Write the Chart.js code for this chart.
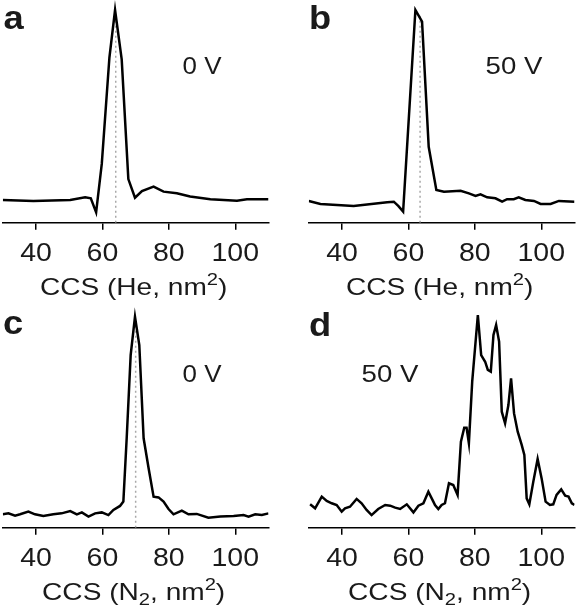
<!DOCTYPE html>
<html><head><meta charset="utf-8">
<script src="https://cdn.jsdelivr.net/npm/chart.js@4.4.1/dist/chart.umd.min.js"></script>
<style>
html,body{margin:0;padding:0;background:#fff;}
#wrap{position:relative;width:577px;height:610px;overflow:hidden;}
.panel{position:absolute;}
canvas{display:block;}
</style></head><body>
<div id="wrap">
<div class="panel" style="left:0;top:0"><canvas id="ca" width="288" height="305"></canvas></div>
<div class="panel" style="left:288px;top:0"><canvas id="cb" width="289" height="305"></canvas></div>
<div class="panel" style="left:0;top:305px"><canvas id="cc" width="288" height="305"></canvas></div>
<div class="panel" style="left:288px;top:305px"><canvas id="cd" width="289" height="305"></canvas></div>
</div>
<script>
// ---- data (CCS in nm², intensity in arbitrary units, baseline ~0, main peak ~100) ----
const tickLabels = [40, 60, 80, 100];
const panelLetters = ["a", "b", "c", "d"];
const voltageLabels = ["0 V", "50 V", "0 V", "50 V"];
// axis titles: [text, 0 = normal, 1 = superscript, -1 = subscript]
const axisTitleHe = [["CCS (He, nm", 0], ["2", 1], [")", 0]];
const axisTitleN2 = [["CCS (N", 0], ["2", -1], [", nm", 0], ["2", 1], [")", 0]];
const axisTitles = [axisTitleHe, axisTitleHe, axisTitleN2, axisTitleN2];
const markerCCS = [64, 63.5, 70, null];

const ccsA = [30, 39.2, 50.3, 54.8, 56.5, 58.1, 59.8, 62.1, 63.8, 65.8, 67.8, 69.8, 71.9, 75.4, 78.4, 82.4, 86.4, 92.5, 100.5, 103.5, 110];
const intA = [0, -0.5, 0, 1.4, 0.9, -6.5, 19, 75, 100, 74, 11, 1.2, 4.7, 7, 4.4, 3.5, 1.8, 0.4, -0.4, 0.4, 0.4];

const ccsB = [30, 33.5, 43.5, 53.6, 55.6, 57, 58.4, 62.1, 64.1, 66.1, 68.4, 70.7, 75.7, 78.2, 80.2, 81.7, 83.7, 86.2, 88.2, 89.7, 91.7, 93.2, 95.2, 97.8, 99.8, 102.8, 105.3, 110];
const intB = [-0.5, -2.1, -3.2, -1.2, -0.9, -3.2, -6.1, 100, 93.9, 28, 5.3, 4.4, 4.9, 3.5, 2.1, 3, 1.4, 0.9, -0.9, 0.4, 0.4, 1.4, 0, -0.5, -2.1, -2.1, -0.5, -0.9];

const ccsC = [30, 31.7, 33.7, 35.2, 37.7, 39.7, 42.2, 45.2, 47.7, 50.3, 52.3, 53.8, 55.8, 57.8, 59.8, 61.8, 63.3, 65.3, 66.3, 67.3, 68.5, 69.8, 71.1, 72.4, 73.9, 75.4, 76.9, 78.4, 79.9, 81.4, 83.9, 85.9, 88.4, 91.9, 95.5, 99.5, 102.5, 104, 106, 108, 110];
const intC = [-4.9, -4.4, -5.6, -4.9, -3.5, -4.9, -5.8, -4.9, -4.4, -3.2, -4.9, -3.9, -6.1, -4.4, -3.9, -5.3, -2.6, -0.5, 1.8, 35.1, 78.9, 99.1, 84.2, 35.1, 19.3, 4.4, 4.0, 1.8, -2.1, -4.9, -3.0, -4.9, -4.7, -6.7, -6.1, -5.8, -5.3, -6.1, -4.9, -5.3, -4.4];

const ccsD = [30.4, 31.9, 33.9, 35.4, 36.9, 38.4, 39.9, 40.9, 42.4, 44.4, 45.9, 47.4, 48.9, 50.9, 53.0, 54.5, 56.0, 57.5, 59.5, 61.5, 63.0, 64.5, 66.0, 67.5, 68.0, 69.0, 70.0, 71.0, 72.2, 73.5, 74.8, 75.8, 76.8, 77.5, 78.2, 79.2, 80.9, 81.9, 83.1, 83.9, 84.8, 85.6, 86.4, 87.3, 88.1, 89.1, 90.1, 90.9, 91.8, 92.9, 94.1, 94.9, 95.6, 96.4, 97.6, 98.9, 100.1, 101.3, 102.6, 103.6, 104.6, 106.0, 107.2, 108.2, 109.2, 110];
const intD = [0.35, -1.75, 4.4, 2.1, 0.9, 0, -3.5, -1.75, -0.9, 3.2, 0.9, -2.6, -5.3, -2.1, 0, -0.35, -1.4, -2.1, 0.35, -3.9, -0.35, 0.9, 7.0, 1.75, 0, -2.1, 0, 0.9, 11.4, 10.5, 5.3, 33.3, 40.7, 40.7, 32.5, 64.9, 100, 78.9, 75.4, 71.1, 70.2, 89.5, 94.7, 86, 49.1, 43, 52.6, 66.7, 48.2, 38.6, 31.6, 26.3, 3.5, 0.35, 12.3, 24.2, 14, 1.75, 0, 0.35, 5.3, 8.2, 4.9, 4.4, 0.9, 0];

// ---- drawing ----
const FONT = "'Liberation Sans', Arial, Helvetica, sans-serif";
const TXT = "#1a1a1a";

function drawStretched(ctx, text, x, y, font, sx, align) {
  ctx.save();
  ctx.translate(x, y);
  ctx.scale(sx, 1);
  ctx.font = font;
  ctx.textAlign = align;
  ctx.textBaseline = 'alphabetic';
  ctx.fillText(text, 0, 0);
  ctx.restore();
}

function drawRich(ctx, parts, cx, y, size, sx) {
  let total = 0;
  const segs = parts.map(([t, k]) => {
    const s = k ? size * 0.72 : size;
    ctx.font = s + 'px ' + FONT;
    const w = ctx.measureText(t).width;
    total += w;
    return {t, k, s, w};
  });
  ctx.save();
  ctx.translate(cx, y);
  ctx.scale(sx, 1);
  ctx.textAlign = 'left';
  ctx.textBaseline = 'alphabetic';
  let x = -total / 2;
  segs.forEach(g => {
    ctx.font = g.s + 'px ' + FONT;
    const dy = g.k === 1 ? -size * 0.4 : (g.k === -1 ? size * 0.22 : 0);
    ctx.fillText(g.t, x, dy);
    x += g.w;
  });
  ctx.restore();
}

const textPlugin = {
  id: 'panelText',
  afterDraw(chart, args, opts) {
    const ctx = chart.ctx;
    const xs = chart.scales.x;
    const area = chart.chartArea;
    ctx.save();
    ctx.fillStyle = TXT;
    // tick labels, placed by the x scale
    xs.ticks.forEach(t => {
      drawStretched(ctx, String(t.value), xs.getPixelForValue(t.value), opts.tickY, '25px ' + FONT, 1.14, 'center');
    });
    // axis title
    drawRich(ctx, opts.title, (area.left + area.right) / 2 + opts.titleDx, opts.titleY, 24, 1.17);
    // panel letter
    drawStretched(ctx, opts.letter, opts.letterX, opts.letterY, 'bold 33px ' + FONT, 1.1, 'left');
    // voltage label
    drawStretched(ctx, opts.volt, opts.vx, opts.vy, opts.vFont, opts.vsx, 'center');
    ctx.restore();
  }
};

function zip(xs, ys) { return xs.map((x, i) => ({x: x, y: ys[i]})); }

const panels = [
  {id: 'ca', xs: ccsA, ys: intA, padL: 2.8, padR: 19.5, letterX: 3.5, letterY: 28.5, vx: 202, vy: 73.5, vFont: '24px ', vsx: 1.08},
  {id: 'cb', xs: ccsB, ys: intB, padL: 20.8, padR: 2.5, letterX: 21, letterY: 28.5, vx: 226, vy: 73.5, vFont: '24px ', vsx: 1.15},
  {id: 'cc', xs: ccsC, ys: intC, padL: 2.8, padR: 19.5, letterX: 3, letterY: 28.5, vx: 202, vy: 77, vFont: '24px ', vsx: 1.08},
  {id: 'cd', xs: ccsD, ys: intD, padL: 20.8, padR: 2.5, letterX: 21, letterY: 30.5, vx: 102, vy: 77, vFont: '24px ', vsx: 1.15}
];

panels.forEach((p, i) => {
  const datasets = [];
  if (markerCCS[i] !== null) {
    datasets.push({
      data: [{x: markerCCS[i], y: -12}, {x: markerCCS[i], y: 97}],
      borderColor: '#a8a8a8', borderWidth: 1.5, borderDash: [2, 3],
      pointRadius: 0, tension: 0, order: 2
    });
  }
  datasets.push({
    data: zip(p.xs, p.ys),
    borderColor: '#000', borderWidth: 2.5, pointRadius: 0, tension: 0, order: 1
  });
  new Chart(document.getElementById(p.id), {
    type: 'line',
    data: {datasets: datasets},
    options: {
      responsive: false, animation: false, devicePixelRatio: 1,
      layout: {padding: {left: p.padL, right: p.padR, top: 0, bottom: 0}},
      plugins: {
        legend: {display: false}, tooltip: {enabled: false}, title: {display: false},
        panelText: {
          tickY: 260.5, title: axisTitles[i], titleY: 295, titleDx: -2,
          letter: panelLetters[i], letterX: p.letterX, letterY: p.letterY,
          volt: voltageLabels[i], vx: p.vx, vy: p.vy, vFont: p.vFont + FONT, vsx: p.vsx
        }
      },
      scales: {
        x: {
          type: 'linear', min: 30, max: 110,
          afterBuildTicks: (s) => { s.ticks = tickLabels.map(v => ({value: v})); },
          afterFit: (s) => { s.height = 82.3; },
          border: {display: true, color: '#000', width: 1.5},
          grid: {display: true, drawOnChartArea: false, drawTicks: true, tickLength: 7, color: '#000', lineWidth: 1.5},
          ticks: {display: false, autoSkip: false},
          title: {display: false}
        },
        y: {type: 'linear', display: false, min: -11.95, max: 105.26}
      }
    },
    plugins: [textPlugin]
  });
});
</script>
</body></html>
